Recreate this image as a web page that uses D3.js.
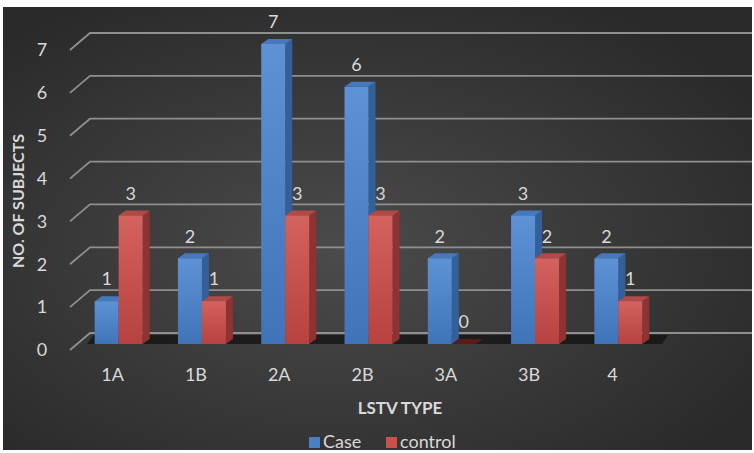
<!DOCTYPE html>
<html>
<head>
<meta charset="utf-8">
<script src="https://cdn.jsdelivr.net/npm/d3@7"></script>
<style>
  body { margin: 0; background: #fff; }
  svg { display: block; font-family: Lato, "Open Sans", sans-serif; }
</style>
</head>
<body>
<div id="chart"></div>
<script>
// data
const categories = ["1A", "1B", "2A", "2B", "3A", "3B", "4"];
const caseValues = [1, 2, 7, 6, 2, 3, 2];
const controlValues = [3, 1, 3, 3, 0, 2, 1];
const seriesNames = ["Case", "control"];
const yTicks = [0, 1, 2, 3, 4, 5, 6, 7];

const width = 754, height = 453;
const svg = d3.select("#chart").append("svg")
  .attr("width", width).attr("height", height);

const defs = svg.append("defs");
const bg = defs.append("radialGradient").attr("id", "bg")
  .attr("cx", "45%").attr("cy", "55%").attr("r", "65%");
bg.append("stop").attr("offset", "0%").attr("stop-color", "#4b4b4b");
bg.append("stop").attr("offset", "100%").attr("stop-color", "#2a2a2a");

function barGrad(id, top, bottom) {
  const g = defs.append("linearGradient").attr("id", id)
    .attr("x1", 0).attr("y1", 0).attr("x2", 0).attr("y2", 1);
  g.append("stop").attr("offset", "0%").attr("stop-color", top);
  g.append("stop").attr("offset", "100%").attr("stop-color", bottom);
}
barGrad("blueFront", "#5e92d6", "#3f74b8");
barGrad("redFront", "#d4625f", "#b7423f");

// background panel
svg.append("rect").attr("x", 3).attr("y", 7).attr("width", 749).attr("height", 443)
  .attr("fill", "url(#bg)");

// scales
const y = d3.scaleLinear().domain([0, 7]).range([344, 44]);
const backShift = -11;
const x0 = d3.scaleBand().domain(categories).range([77, 660])
  .paddingInner(0.424).paddingOuter(0.212);
const x1 = d3.scaleBand().domain(seriesNames).range([0, x0.bandwidth()]);
const dx = 7, dy = -5;

const colors = {
  Case: { front: "url(#blueFront)", side: "#34609a", top: "#4578bd" },
  control: { front: "url(#redFront)", side: "#8e3331", top: "#b04a47" }
};

// gridlines (back wall + side wall diagonal)
const grid = svg.append("g");
yTicks.forEach(t => {
  const yb = y(t) + backShift;
  grid.append("path")
    .attr("d", `M70,${yb + 17} L90,${yb} L752,${yb}`)
    .attr("fill", "none").attr("stroke", "#8f8f8f").attr("stroke-width", 1.8);
  grid.append("text")
    .attr("x", 42).attr("y", yb + 17).attr("dy", "0.35em")
    .attr("text-anchor", "middle").attr("fill", "#d9d9d9")
    .attr("font-size", 18).text(t);
});

// floor shadow between bars
svg.append("path")
  .attr("d", `M${x0.range()[0] + 10},${y(0)} L${x0.range()[0] + 17},${y(0) + backShift + 2} L668,${y(0) + backShift + 2} L662,${y(0)} Z`)
  .attr("fill", "#111").attr("opacity", 0.75);

// bars
const rows = categories.map((c, i) => ({ cat: c, Case: caseValues[i], control: controlValues[i] }));
const groups = svg.append("g").selectAll("g").data(rows).join("g")
  .attr("transform", d => `translate(${x0(d.cat)},0)`);

seriesNames.forEach(s => {
  const bw = x1.bandwidth();
  const bx = x1(s);
  groups.each(function(d) {
    const g = d3.select(this);
    const v = d[s];
    const yt = y(v), yb = y(0);
    // side
    g.append("path")
      .attr("d", `M${bx + bw},${yt} L${bx + bw + dx},${yt + dy} L${bx + bw + dx},${yb + dy} L${bx + bw},${yb} Z`)
      .attr("fill", colors[s].side);
    // top
    g.append("path")
      .attr("d", `M${bx},${yt} L${bx + dx},${yt + dy} L${bx + bw + dx},${yt + dy} L${bx + bw},${yt} Z`)
      .attr("fill", v === 0 ? "#5a1c1a" : colors[s].top);
    // front
    if (v > 0) {
      g.append("rect").attr("x", bx).attr("y", yt)
        .attr("width", bw).attr("height", yb - yt)
        .attr("fill", colors[s].front);
    }
    // value label
    g.append("text")
      .attr("x", bx + bw / 2).attr("y", yt - 22).attr("dy", "0.35em")
      .attr("text-anchor", "middle").attr("fill", "#d9d9d9")
      .attr("font-size", 18).text(v);
  });
});

// category labels
svg.append("g").selectAll("text").data(categories).join("text")
  .attr("x", d => x0(d) + x0.bandwidth() / 2 - 6)
  .attr("y", 375).attr("dy", "0.35em")
  .attr("text-anchor", "middle").attr("fill", "#d9d9d9")
  .attr("font-size", 18).text(d => d);

// axis titles
svg.append("text")
  .attr("transform", "translate(18,201) rotate(-90)")
  .attr("dy", "0.35em").attr("text-anchor", "middle")
  .attr("fill", "#d9d9d9").attr("font-size", 16).attr("font-weight", "bold")
  .text("NO. OF SUBJECTS");
svg.append("text")
  .attr("x", 400).attr("y", 408).attr("dy", "0.35em")
  .attr("text-anchor", "middle").attr("fill", "#d9d9d9")
  .attr("font-size", 17).attr("font-weight", "bold")
  .text("LSTV TYPE");

// legend
const legend = svg.append("g");
const legendX = [309, 386];
const legendFill = ["#4a7fc4", "#c9504d"];
seriesNames.forEach((s, i) => {
  legend.append("rect").attr("x", legendX[i]).attr("y", 437)
    .attr("width", 11).attr("height", 11).attr("fill", legendFill[i]);
  legend.append("text").attr("x", legendX[i] + 14).attr("y", 442).attr("dy", "0.35em")
    .attr("fill", "#d9d9d9").attr("font-size", 18).text(s);
});
</script>
</body>
</html>
